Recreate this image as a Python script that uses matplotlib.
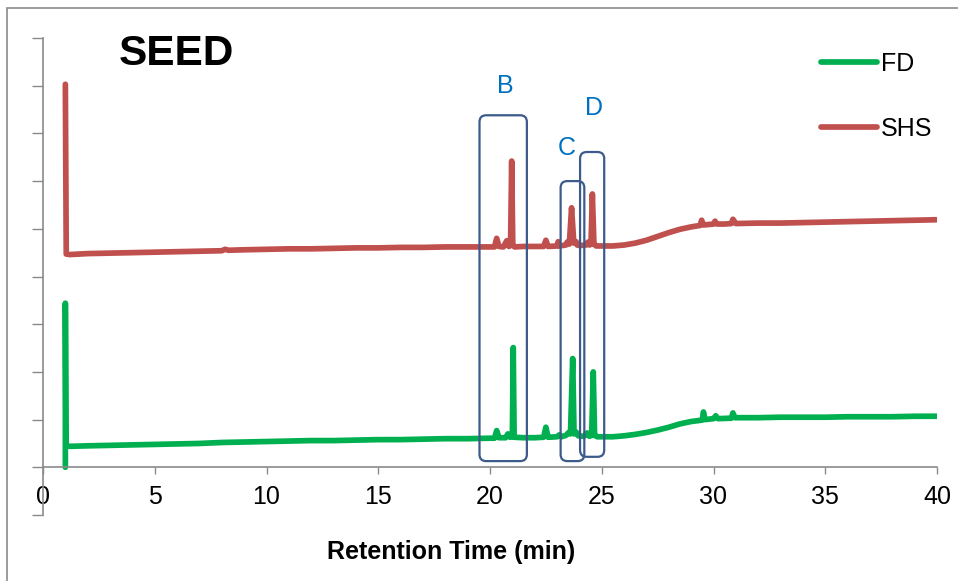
import matplotlib
matplotlib.use("Agg")
import matplotlib.pyplot as plt
from matplotlib.patches import FancyBboxPatch, Rectangle

plt.rcParams["font.family"] = ["Liberation Sans", "DejaVu Sans"]

# FD trace (time in min, detector response in arbitrary units)
fd_time = [1.0, 1.0, 1.03, 1.2, 2, 3, 4, 5, 6, 7, 8, 9, 10, 11, 12, 13, 14, 15,
           16, 17, 18, 19, 20, 20.2, 20.3, 20.4, 20.7, 20.8, 20.9, 21.0, 21.04,
           21.08, 21.5, 22.0, 22.4, 22.5, 22.6, 23.0, 23.1, 23.2, 23.4, 23.5,
           23.6, 23.7, 23.76, 23.85, 23.95, 24.2, 24.35, 24.45, 24.55, 24.62,
           24.68, 24.8, 25, 25.5, 26, 26.5, 27, 27.5, 28, 28.5, 29, 29.5, 29.55,
           29.62, 30, 30.1, 30.2, 30.8, 30.87, 30.95, 31, 32, 33, 34, 35, 36, 37,
           38, 39, 40]
fd_signal = [0.0, 3.44, 0.45, 0.44, 0.45, 0.46, 0.47, 0.48, 0.49, 0.50, 0.52,
             0.53, 0.54, 0.55, 0.56, 0.56, 0.57, 0.58, 0.58, 0.59, 0.60, 0.60,
             0.61, 0.61, 0.77, 0.62, 0.62, 0.70, 0.63, 0.64, 2.51, 0.63, 0.62,
             0.62, 0.63, 0.84, 0.63, 0.64, 0.68, 0.64, 0.67, 0.72, 0.70, 2.28,
             0.70, 0.74, 0.66, 0.65, 0.72, 0.65, 0.67, 2.00, 0.67, 0.64, 0.64,
             0.64, 0.66, 0.69, 0.73, 0.78, 0.84, 0.91, 0.96, 0.99, 1.16, 1.00,
             1.02, 1.08, 1.02, 1.03, 1.14, 1.04, 1.04, 1.04, 1.05, 1.05, 1.05,
             1.06, 1.06, 1.06, 1.07, 1.07]

# SHS trace
shs_time = [1.0, 1.04, 1.2, 2, 3, 4, 5, 6, 7, 8, 8.15, 8.3, 9, 10, 11, 12, 13,
            14, 15, 16, 17, 18, 19, 20, 20.2, 20.3, 20.4, 20.6, 20.75, 20.85,
            20.92, 20.97, 21.02, 21.1, 21.5, 22.0, 22.4, 22.5, 22.6, 23.0, 23.05,
            23.1, 23.4, 23.45, 23.55, 23.65, 23.75, 23.85, 23.9, 24.0, 24.3,
            24.38, 24.45, 24.52, 24.58, 24.65, 24.75, 25, 25.5, 26, 26.5, 27,
            27.5, 28, 28.5, 29, 29.4, 29.47, 29.55, 30.0, 30.07, 30.15, 30.5,
            30.8, 30.87, 31, 32, 33, 34, 35, 36, 37, 38, 39, 40]
shs_signal = [8.03, 4.47, 4.46, 4.48, 4.49, 4.50, 4.51, 4.52, 4.53, 4.54, 4.57,
              4.55, 4.56, 4.57, 4.58, 4.58, 4.59, 4.60, 4.60, 4.61, 4.61, 4.62,
              4.62, 4.62, 4.62, 4.80, 4.63, 4.62, 4.75, 4.63, 4.65, 6.42, 4.66,
              4.62, 4.63, 4.63, 4.63, 4.76, 4.63, 4.64, 4.73, 4.64, 4.66, 4.72,
              4.68, 5.44, 4.70, 4.73, 4.66, 4.65, 4.66, 4.72, 4.66, 4.68, 5.73,
              4.68, 4.64, 4.64, 4.64, 4.66, 4.70, 4.76, 4.84, 4.92, 4.99, 5.04,
              5.07, 5.18, 5.08, 5.10, 5.16, 5.10, 5.10, 5.11, 5.20, 5.11, 5.12,
              5.12, 5.13, 5.14, 5.15, 5.16, 5.17, 5.18, 5.19]

# highlighted regions: label, x range (min), y range, label position
regions = ["B", "C", "D"]
region_x = [(19.53, 21.65), (23.16, 24.22), (24.03, 25.11)]
region_y = [(0.13, 7.38), (0.13, 6.00), (0.22, 6.61)]
label_pos = [(20.67, 8.0), (23.45, 6.69), (24.65, 7.53)]

GREY = "#8a8a8a"

fig = plt.figure(figsize=(9.58, 5.81), dpi=100)
ax = fig.add_axes([43 / 958, 66 / 581, 894 / 958, 477 / 581])

ax.plot(fd_time, fd_signal, color="#00b050", lw=4.1, label="FD",
        solid_capstyle="round", solid_joinstyle="round")
ax.plot(shs_time, shs_signal, color="#c0504d", lw=4.1, label="SHS",
        solid_capstyle="round", solid_joinstyle="round")

aspect = (894 / 40) / (477 / 10)
for name, (x0, x1), (y0, y1), (lx, ly) in zip(regions, region_x, region_y, label_pos):
    box = FancyBboxPatch((x0, y0), x1 - x0, y1 - y0,
                         boxstyle="round,pad=0,rounding_size=0.3",
                         mutation_aspect=aspect, fill=False,
                         edgecolor="#3c5a8a", lw=1.6, zorder=4)
    ax.add_patch(box)
    ax.text(lx, ly, name, color="#0070c0", fontsize=18, ha="center", va="center")

ax.set_xlim(0, 40)
ax.set_ylim(-1, 9)
ax.set_xticks(range(0, 41, 5))
ax.set_yticks(range(-1, 10))
ax.tick_params(axis="x", direction="out", length=5, width=1, color=GREY,
               labelsize=18, pad=8)
ax.tick_params(axis="y", direction="out", length=8, width=1, color=GREY,
               labelleft=False)

ax.spines["top"].set_visible(False)
ax.spines["right"].set_visible(False)
ax.spines["bottom"].set_position(("data", 0))
for side in ["left", "bottom"]:
    ax.spines[side].set_color(GREY)
    ax.spines[side].set_linewidth(1.2)

fig.text(451 / 958, 1 - 552 / 581, "Retention Time (min)", fontsize=18,
         fontweight="bold", ha="center", va="center")
fig.text(119 / 958, 1 - 54 / 581, "SEED", fontsize=30.5, fontweight="bold",
         ha="left", va="center")

ax.legend(loc="upper left", bbox_to_anchor=(821 / 958, 1 - 52 / 581),
          bbox_transform=fig.transFigure, frameon=False, fontsize=18,
          handlelength=2.25, handletextpad=0.15, labelspacing=1.64,
          borderpad=0, borderaxespad=0)

fig.patches.append(Rectangle((7 / 958, -0.1), 1.2, 1 - 8 / 581 + 0.1,
                             transform=fig.transFigure, fill=False,
                             edgecolor=GREY, lw=1.2))

fig.savefig("out.png", dpi=100)
